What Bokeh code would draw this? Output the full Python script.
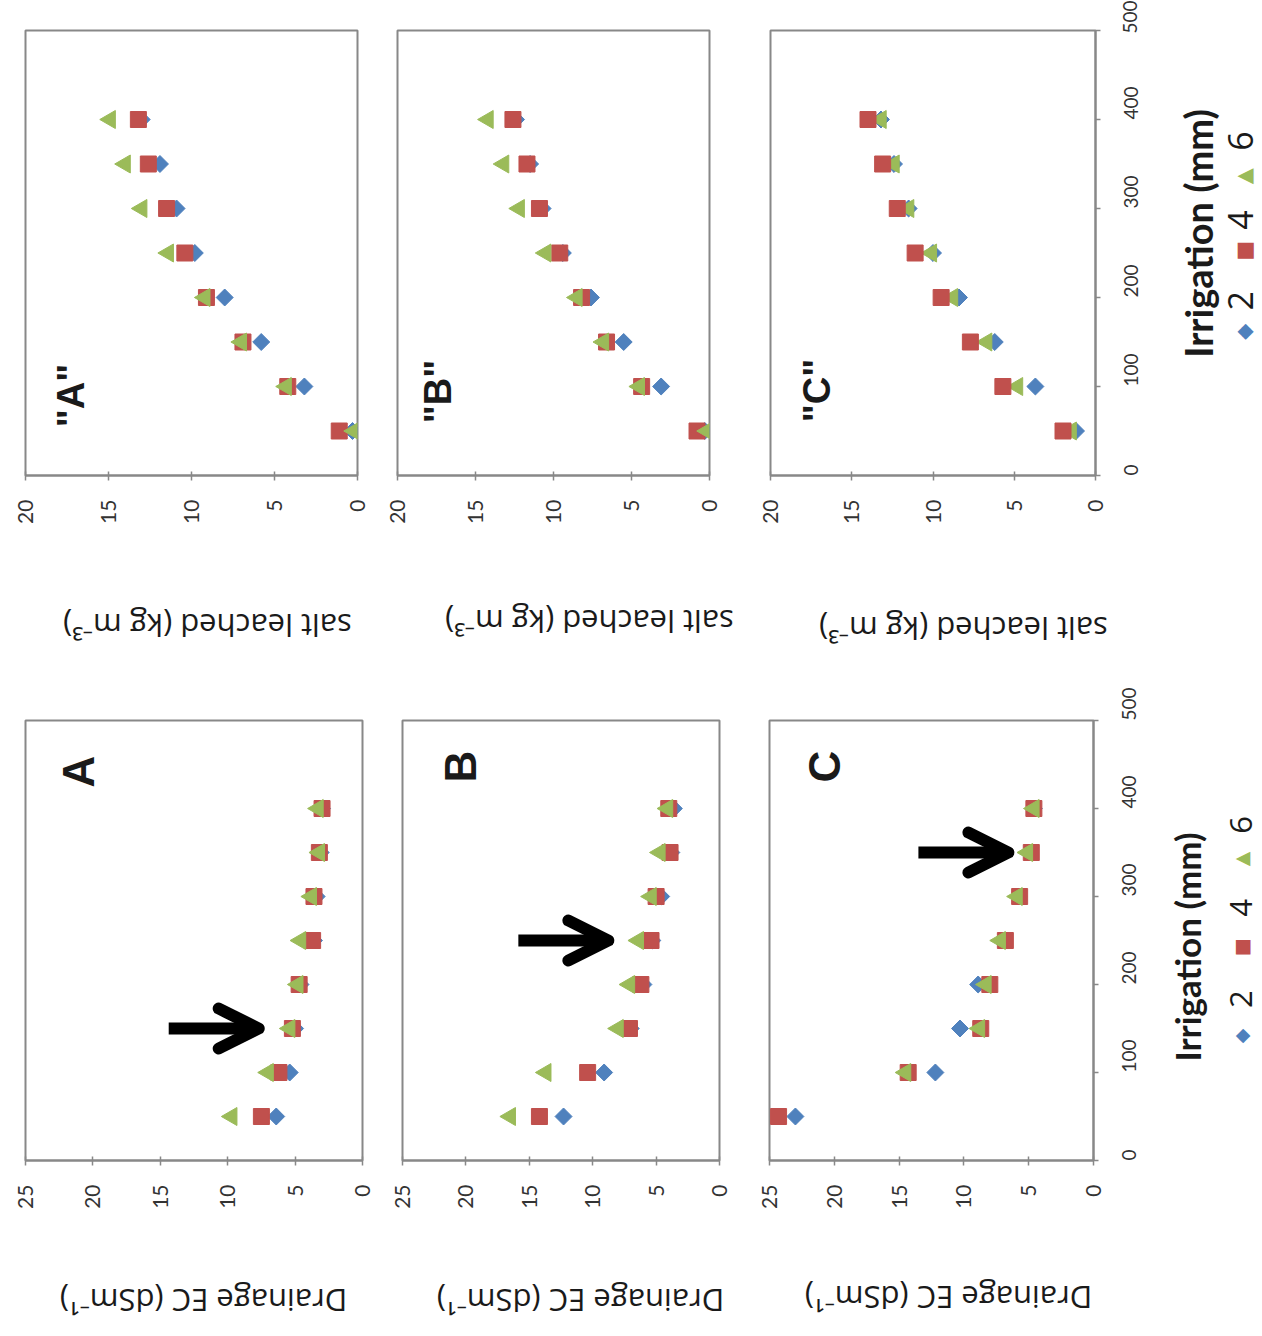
import math
from bokeh.plotting import figure
from bokeh.layouts import row, column
from bokeh.models import Range1d, Label, Arrow, OpenHead, SingleIntervalTicker
from bokeh.embed import file_html
from bokeh.resources import INLINE

# ---------------- data ----------------
irrigation_mm = [50, 100, 150, 200, 250, 300, 350, 400]
series_names = ["2", "4", "6"]
series_colors = ["#4F81BD", "#C0504D", "#9BBB59"]

# Drainage EC (dS m-1)
ec_A_2 = [6.4, 5.4, 5.0, 4.6, 3.6, 3.4, 3.1, 3.0]
ec_A_4 = [7.5, 6.2, 5.2, 4.7, 3.7, 3.6, 3.2, 3.0]
ec_A_6 = [9.7, 7.0, 5.4, 4.8, 4.6, 3.8, 3.2, 3.3]

ec_B_2 = [12.3, 9.1, 7.0, 6.0, 5.3, 4.6, 3.8, 3.6]
ec_B_4 = [14.2, 10.4, 7.1, 6.2, 5.4, 5.0, 3.9, 4.0]
ec_B_6 = [16.5, 13.7, 8.0, 7.1, 6.4, 5.4, 4.7, 4.1]

ec_C_2 = [23.0, 12.2, 10.3, 8.9, 7.0, 5.8, 5.0, 4.6]
ec_C_4 = [24.3, 14.3, 8.7, 8.0, 6.8, 5.7, 4.8, 4.6]
ec_C_6 = [25.5, 14.5, 8.8, 8.3, 7.2, 5.9, 5.1, 4.6]

# salt leached (kg m-3)
salt_A_2 = [0.3, 3.2, 5.8, 8.0, 9.8, 10.9, 11.9, 13.0]
salt_A_4 = [1.1, 4.2, 6.9, 9.1, 10.4, 11.5, 12.6, 13.2]
salt_A_6 = [0.2, 4.3, 7.0, 9.2, 11.4, 13.0, 14.0, 14.9]

salt_B_2 = [0.3, 3.1, 5.5, 7.6, 9.4, 10.7, 11.5, 12.4]
salt_B_4 = [0.8, 4.35, 6.6, 8.2, 9.6, 10.9, 11.7, 12.6]
salt_B_6 = [0.15, 4.5, 6.8, 8.5, 10.5, 12.2, 13.2, 14.2]

salt_C_2 = [1.2, 3.7, 6.2, 8.4, 10.0, 11.5, 12.4, 13.2]
salt_C_4 = [2.0, 5.7, 7.7, 9.5, 11.1, 12.2, 13.1, 14.0]
salt_C_6 = [1.5, 4.8, 6.7, 8.8, 10.1, 11.5, 12.4, 13.2]

ec_max = 25
salt_max = 20
irr_max = 500
value_tick_step = 5
irr_tick_step = 100

ec_letters = ["A", "B", "C"]
salt_letters = ['"A"', '"B"', '"C"']
arrow_target_mm = [150, 250, 350]

ec_title = "Drainage EC (dSm\u207b\u00b9)"
salt_title = "salt leached (kg m\u207b\u00b3)"
irr_title = "Irrigation (mm)"

# ---------------- layout geometry (window pixels) ----------------
TOTAL_W = 1262
TOP = dict(y0=0, bt=30, fh=445, bb=60, th=145)
BOT = dict(y0=680, bt=40, fh=440, bb=60, th=116)
# (canvas x0, left border, frame width, right border)
top_cols = [(0, 25, 332, 23), (380, 17, 312, 41), (750, 20, 325, 58)]
bot_cols = [(0, 25, 337, 23), (385, 17, 317, 21), (740, 29, 324, 58)]

GRAY = "#888888"
TXT = "#1a1a1a"
TICK_FONT = "Lato"
TITLE_FONT = "Open Sans"


def to_data(geom, px, py):
    fx0, fx1, fy0, fy1, vmax = geom
    x = vmax + (px - fx0) / (fx1 - fx0) * (0 - vmax)
    y = (fy1 - py) / (fy1 - fy0) * irr_max
    return x, y


def label(p, x, y, text, size, angle, font=TITLE_FONT, style="normal", color=TXT):
    p.add_layout(Label(x=x, y=y, text=text, angle=angle, text_align="center",
                       text_baseline="middle", text_font=font, text_font_size=size,
                       text_font_style=style, text_color=color))


def strip(x0, y0, w, h):
    """Blank figure whose frame is the whole canvas; coordinates = window pixels."""
    s = figure(width=w, height=h, x_range=Range1d(x0, x0 + w), y_range=Range1d(y0 + h, y0),
               min_border=0, x_axis_location=None, y_axis_location=None,
               toolbar_location=None, output_backend="svg")
    s.grid.visible = False
    s.outline_line_color = None
    s.background_fill_color = "white"
    s.border_fill_color = "white"
    return s


def make_panel(vmax, col, rg, right_axis):
    cx0, bl, fw, br = col
    p = figure(width=bl + fw + br, height=rg["bt"] + rg["fh"] + rg["bb"],
               x_range=Range1d(vmax, 0), y_range=Range1d(0, irr_max),
               min_border_left=bl, min_border_right=br,
               min_border_top=rg["bt"], min_border_bottom=rg["bb"],
               y_axis_location="right" if right_axis else None,
               toolbar_location=None, output_backend="svg")
    p.grid.visible = False
    p.outline_line_color = GRAY
    p.outline_line_width = 2
    p.background_fill_color = "white"
    p.border_fill_color = "white"
    xa = p.xaxis[0]
    xa.ticker = SingleIntervalTicker(interval=value_tick_step)
    xa.major_label_orientation = math.pi / 2
    xa.major_label_text_font = TICK_FONT
    xa.major_label_text_font_size = "21px"
    xa.major_label_text_color = "#333333"
    xa.major_label_standoff = 19
    xa.axis_line_color = GRAY
    xa.axis_line_width = 2
    xa.major_tick_line_color = GRAY
    xa.major_tick_line_width = 1.5
    xa.major_tick_in = 4
    xa.major_tick_out = 5
    xa.minor_tick_line_color = None
    if right_axis:
        ya = p.yaxis[0]
        ya.ticker = SingleIntervalTicker(interval=irr_tick_step)
        ya.major_label_orientation = math.pi / 2
        ya.major_label_text_font = TICK_FONT
        ya.major_label_text_font_size = "19px"
        ya.major_label_text_color = "#333333"
        ya.major_label_standoff = 30
        ya.axis_line_color = GRAY
        ya.axis_line_width = 2
        ya.major_tick_line_color = GRAY
        ya.major_tick_line_width = 1.5
        ya.major_tick_in = 0
        ya.major_tick_out = 5
        ya.minor_tick_line_color = None
    geom = (cx0 + bl, cx0 + bl + fw, rg["y0"] + rg["bt"], rg["y0"] + rg["bt"] + rg["fh"], vmax)
    return p, geom


def draw_series(p, values, k):
    color = series_colors[k]
    if k == 0:
        p.scatter(values, irrigation_mm, marker="square", angle=math.pi / 4, size=12,
                  fill_color=color, line_color=color)
    elif k == 1:
        p.scatter(values, irrigation_mm, marker="square", size=16,
                  fill_color=color, line_color=color)
    else:
        p.scatter(values, irrigation_mm, marker="triangle", angle=math.pi / 2, size=18,
                  fill_color=color, line_color=color)


ec_sets = [(ec_A_2, ec_A_4, ec_A_6), (ec_B_2, ec_B_4, ec_B_6), (ec_C_2, ec_C_4, ec_C_6)]
salt_sets = [(salt_A_2, salt_A_4, salt_A_6), (salt_B_2, salt_B_4, salt_B_6),
             (salt_C_2, salt_C_4, salt_C_6)]

# positions of texts (window px)
salt_letter_pos = [(70, 395), (437, 391), (816, 390)]
ec_letter_pos = [(78, 771), (460, 766), (824, 766)]
salt_title_pos = [(207, 625), (589, 621), (963, 628)]
ec_title_pos = [(203, 1300), (580, 1300), (948, 1297)]
arrow_gap_px = [31, 30, 19]
arrow_len_px = 90

top_legend = dict(label=(1197, 244, "38px"), num_size="34px", sym_size="21px",
                  items=[(1243, 362, 1240, 325), (1243, 265, 1240, 228), (1243, 175, 1240, 133)])
bot_legend = dict(label=(1186, 958, "35px"), num_size="31px", sym_size="19px",
                  items=[(1240, 1067, 1240, 1022), (1240, 958, 1240, 910), (1240, 850, 1240, 808)])
legend_symbols = ["\u25c6", "\u25a0", "\u25b2"]


def build_rows(rg, cols, sets, kind):
    vmax = salt_max if kind == "salt" else ec_max
    panel_h = rg["bt"] + rg["fh"] + rg["bb"]
    children = []
    for i in range(3):
        p, g = make_panel(vmax, cols[i], rg, i == 2)
        if kind == "salt":
            order = [0, 2, 1] if i == 2 else [0, 1, 2]
        else:
            order = [0, 1, 2]
        for k in order:
            draw_series(p, sets[i][k], k)
        if kind == "salt":
            x, y = to_data(g, *salt_letter_pos[i])
            label(p, x, y, salt_letters[i], "38px", math.pi / 2, font="Liberation Sans", style="bold")
        else:
            x, y = to_data(g, *ec_letter_pos[i])
            label(p, x, y, ec_letters[i], "44px", math.pi / 2, font="Liberation Sans", style="bold")
            idx = irrigation_mm.index(arrow_target_mm[i])
            vtop = max(s[idx] for s in sets[i])
            fx0, fx1, fy0, fy1, _ = g
            point_px = fx0 + (vmax - vtop) / vmax * (fx1 - fx0)
            tip_px = point_px - arrow_gap_px[i]
            x_end, _ = to_data(g, tip_px, 0)
            x_start, _ = to_data(g, tip_px - arrow_len_px, 0)
            p.add_layout(Arrow(x_start=x_start, y_start=arrow_target_mm[i],
                               x_end=x_end, y_end=arrow_target_mm[i],
                               line_width=12, line_color="black",
                               end=OpenHead(size=40, line_width=12, line_color="black",
                                            line_cap="round", line_join="round")))
        children.append(p)
    # legend / irrigation title strip at the right
    cx0, bl, fw, br = cols[2]
    lx0 = cx0 + bl + fw + br
    leg = strip(lx0, rg["y0"], TOTAL_W - lx0, panel_h)
    L = top_legend if kind == "salt" else bot_legend
    lxp, lyp, lsz = L["label"]
    label(leg, lxp, lyp, irr_title, lsz, math.pi / 2, font="Lato", style="bold")
    for k, (sx, sy, nx, ny) in enumerate(L["items"]):
        label(leg, sx, sy, legend_symbols[k], L["sym_size"], math.pi / 2,
              font="DejaVu Sans", color=series_colors[k])
        label(leg, nx, ny, series_names[k], L["num_size"], math.pi / 2, font="Open Sans")
    children.append(leg)
    # axis titles strip (full width)
    ts = strip(0, rg["y0"] + panel_h, TOTAL_W, rg["th"])
    for i in range(3):
        tx, ty = (salt_title_pos if kind == "salt" else ec_title_pos)[i]
        label(ts, tx, ty, salt_title if kind == "salt" else ec_title, "31px", math.pi)
    return row(*children, spacing=0), ts


top_panels, top_titles = build_rows(TOP, top_cols, salt_sets, "salt")
bot_panels, bot_titles = build_rows(BOT, bot_cols, ec_sets, "ec")

layout = column(top_panels, top_titles, bot_panels, bot_titles, spacing=0)
open("out.html", "w").write(file_html(layout, INLINE))
